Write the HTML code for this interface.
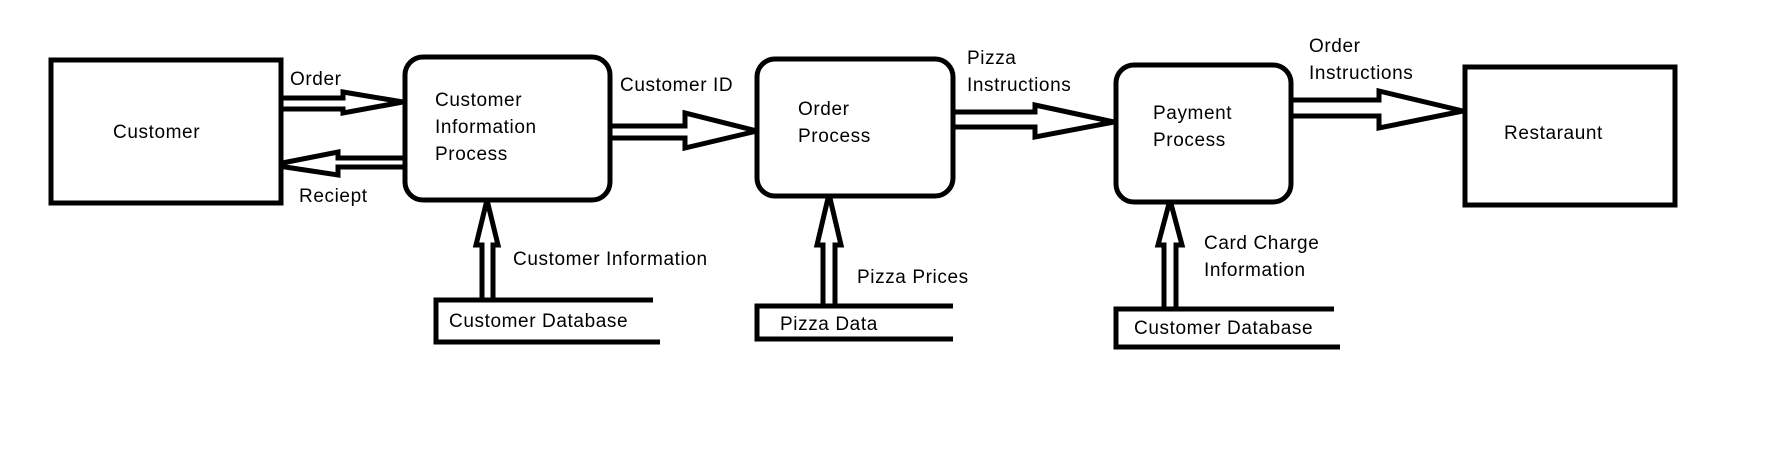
<!DOCTYPE html>
<html><head><meta charset="utf-8"><style>
html,body{margin:0;padding:0;background:#fff;}
svg{display:block}
text{font-family:"Liberation Sans",sans-serif;font-size:19px;letter-spacing:0.6px;fill:#000}
</style></head><body>
<svg width="1767" height="457" viewBox="0 0 1767 457" xmlns="http://www.w3.org/2000/svg">
<g fill="#fff" stroke="#000" stroke-width="5" stroke-linejoin="miter">
<polyline points="280,98 343,98 343,92 403,102 343,113 343,109 280,109"/>
<polyline points="405,158 338,158 338,152 272,165 338,175 338,167 405,167"/>
<polyline points="610,126 685,126 685,113 757,131 685,148 685,138 610,138"/>
<polyline points="953,112 1035,112 1035,105 1114,122 1035,137 1035,127 953,127"/>
<polyline points="1291,100 1379,100 1379,91 1463,111 1379,128 1379,116 1291,116"/>
<polyline points="482,300 482,245 476,245 487,200 498,245 493,245 493,300"/>
<polyline points="823,306 823,245 817,245 829,194 841,245 835,245 835,306"/>
<polyline points="1164,309 1164,245 1158,245 1170,200 1182,245 1176,245 1176,309"/>
<rect x="51" y="60" width="230" height="143"/>
<rect x="405" y="57" width="205" height="143" rx="18"/>
<rect x="757" y="59" width="196" height="137" rx="18"/>
<rect x="1116" y="65" width="175" height="137" rx="18"/>
<rect x="1465" y="67" width="210" height="138"/>
<polyline fill="none" points="653,300 436,300 436,342 660,342"/>
<polyline fill="none" points="953,306 757,306 757,339 953,339"/>
<polyline fill="none" points="1334,309 1116,309 1116,347 1340,347"/>
</g>
<text x="290" y="85">Order</text>
<text x="113" y="138">Customer</text>
<text x="435" y="106">Customer</text>
<text x="435" y="133">Information</text>
<text x="435" y="160">Process</text>
<text x="620" y="91">Customer ID</text>
<text x="798" y="115">Order</text>
<text x="798" y="142">Process</text>
<text x="967" y="64">Pizza</text>
<text x="967" y="91">Instructions</text>
<text x="1153" y="119">Payment</text>
<text x="1153" y="146">Process</text>
<text x="1309" y="52">Order</text>
<text x="1309" y="79">Instructions</text>
<text x="1504" y="139">Restaraunt</text>
<text x="299" y="202">Reciept</text>
<text x="513" y="265">Customer Information</text>
<text x="857" y="283">Pizza Prices</text>
<text x="1204" y="249">Card Charge</text>
<text x="1204" y="276">Information</text>
<text x="449" y="327">Customer Database</text>
<text x="780" y="330">Pizza Data</text>
<text x="1134" y="334">Customer Database</text>
</svg>
</body></html>
